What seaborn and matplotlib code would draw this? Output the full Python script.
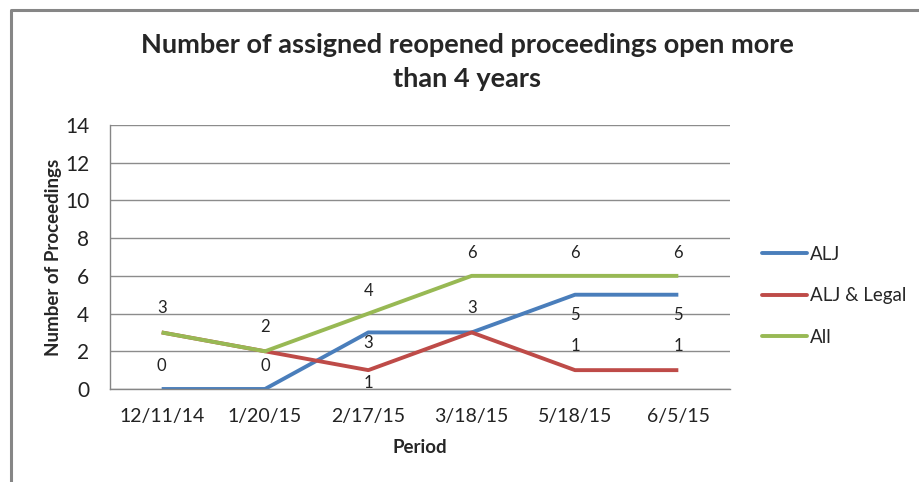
import matplotlib.pyplot as plt
import seaborn as sns
import pandas as pd
from matplotlib.lines import Line2D

periods = ["12/11/14", "1/20/15", "2/17/15", "3/18/15", "5/18/15", "6/5/15"]
alj = [0, 0, 3, 3, 5, 5]
alj_legal = [3, 2, 1, 3, 1, 1]
all_ = [3, 2, 4, 6, 6, 6]
series_names = ["ALJ", "ALJ & Legal", "All"]
colors = ["#4A7EBB", "#BE4B48", "#98B954"]

# label offsets in pixels (up positive), like the manual placement in excel
label_offsets = {
    "ALJ": [23, 23, -11, 24, -20, -20],
    "ALJ & Legal": [24, 24, -13, 24, 24, 24],
    "All": [24, 24, 23, 23, 23, 23],
}

rows = []
for name, vals in zip(series_names, [alj, alj_legal, all_]):
    for i, v in enumerate(vals):
        rows.append({"idx": i, "Period": periods[i], "value": v, "series": name})
df = pd.DataFrame(rows)

sns.set_style("white")
plt.rcParams['font.family'] = ['Lato', 'DejaVu Sans']

fig = plt.figure(figsize=(9.2, 4.82), dpi=100)
ax = fig.add_axes([110 / 920, 1 - 389 / 482, 620 / 920, 264 / 482])

sns.lineplot(data=df, x="idx", y="value", hue="series", palette=colors,
             hue_order=series_names, linewidth=2.8, ax=ax, legend=False,
             solid_capstyle="butt")

drawn = set()
for name in series_names:
    sub = df[df["series"] == name]
    for (_, r), off in zip(sub.iterrows(), label_offsets[name]):
        key = (r["idx"], r["value"], off > 0)
        if key in drawn:
            continue  # same label on top of another one
        drawn.add(key)
        ax.annotate(str(r["value"]), (r["idx"], r["value"]), xytext=(0, off * 0.72),
                    textcoords="offset points", ha="center", va="center",
                    fontsize=12, color="#222222")

ax.set_xlim(-0.5, len(periods) - 0.5)
ax.set_ylim(0, 14)
ax.set_yticks(range(0, 15, 2))
ax.set_xticks(range(len(periods)))
ax.set_xticklabels(periods)
ax.set_xticks([i - 0.5 for i in range(len(periods) + 1)], minor=True)
ax.tick_params(axis="x", which="major", length=0, pad=14, labelsize=14, colors="#222222")
ax.tick_params(axis="x", which="minor", length=5, width=1, color="#868686", direction="out")
ax.tick_params(axis="y", length=5, width=1, color="#868686", direction="out", pad=10,
               labelsize=15, labelcolor="#222222")
ax.yaxis.grid(True, color="#8c8c8c", linewidth=1)
for s in ["top", "right"]:
    ax.spines[s].set_visible(False)
for s in ["left", "bottom"]:
    ax.spines[s].set_color("#868686")
    ax.spines[s].set_linewidth(1)

ax.set_xlabel("Period", fontsize=13.5, fontweight="bold", labelpad=10)
ax.set_ylabel("Number of Proceedings", fontsize=13.5, fontweight="bold", labelpad=2)

fig.text(467 / 920, 1 - 62 / 482, "Number of assigned reopened proceedings open more\nthan 4 years",
         ha="center", va="center", fontsize=19.5, fontweight="bold", linespacing=1.5)

handles = [Line2D([0], [0], color=c, linewidth=2.8) for c in colors]
fig.legend(handles, series_names, loc="upper left", bbox_to_anchor=(762 / 920, 1 - 246 / 482),
           frameon=False, fontsize=13.5, handlelength=2.4, handletextpad=0.15, labelspacing=1.3,
           borderaxespad=0, borderpad=0)

# chart frame, only top and left are in view
fig.add_artist(Line2D([11 / 920, 11 / 920, 1], [0, 1 - 10 / 482, 1 - 10 / 482],
                      color="#868686", linewidth=2.2, transform=fig.transFigure))

fig.savefig("out.png", dpi=100)
